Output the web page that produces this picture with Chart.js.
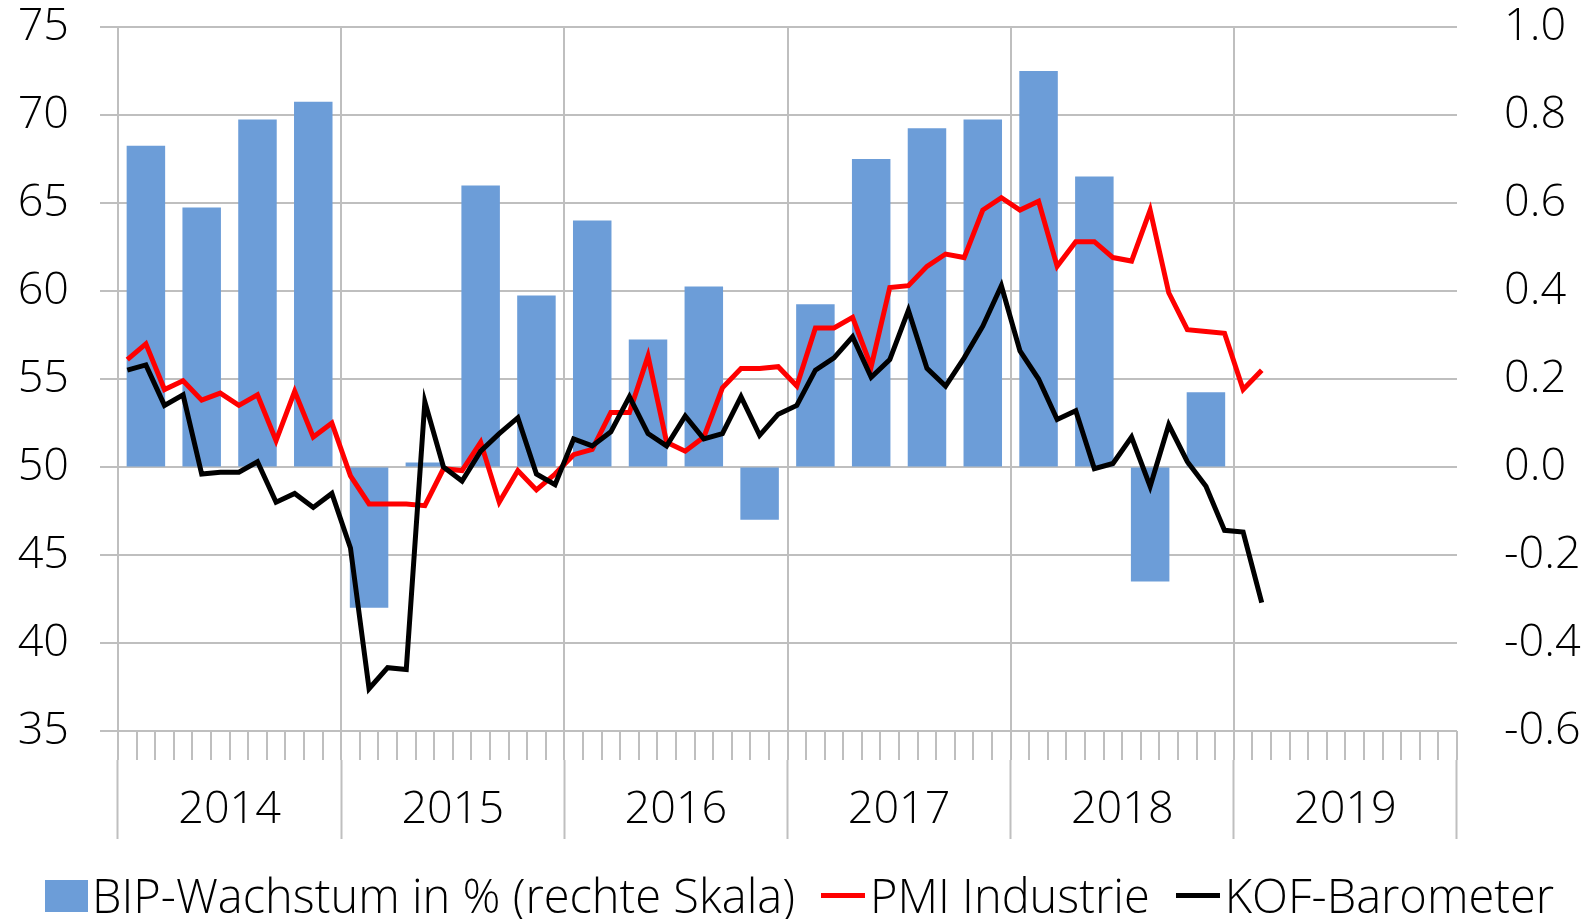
<!DOCTYPE html>
<html lang="de">
<head>
<meta charset="utf-8">
<title>BIP-Wachstum, PMI und KOF-Barometer</title>
<script src="https://cdn.jsdelivr.net/npm/chart.js@4/dist/chart.umd.min.js"></script>
<style>
  body { margin: 0; background: #fff; }
  #wrap { position: relative; width: 1595px; height: 919px; }
  #legend {
    position: absolute; left: 45px; top: 872px;
    display: flex; align-items: center;
    font: 300 47px "Open Sans", sans-serif; line-height: 1; color: #000; white-space: nowrap;
  }
  .item { display: flex; align-items: center; margin-right: 26px; }
  .box { width: 43px; height: 32px; background: #6c9dd8; margin-right: 4px; }
  .line { width: 44px; height: 5px; margin-right: 5px; }
</style>
</head>
<body>
<div id="wrap">
  <canvas id="chart" width="1595" height="919"></canvas>
  <div id="legend">
    <div class="item"><span class="box"></span>BIP-Wachstum in % (rechte Skala)</div>
    <div class="item"><span class="line" style="background:#ff0000"></span>PMI Industrie</div>
    <div class="item"><span class="line" style="background:#000"></span>KOF-Barometer</div>
  </div>
</div>
<script>
const years = ['2014', '2015', '2016', '2017', '2018', '2019'];
const monthNames = ['Jan', 'Feb', 'Mär', 'Apr', 'Mai', 'Jun', 'Jul', 'Aug', 'Sep', 'Okt', 'Nov', 'Dez'];
const quarterNames = ['Q1', 'Q2', 'Q3', 'Q4'];

// BIP-Wachstum in % gegenüber Vorquartal (rechte Skala)
const gdp = [0.73, 0.59, 0.79, 0.83,
             -0.32, 0.01, 0.64, 0.39,
             0.56, 0.29, 0.41, -0.12,
             0.37, 0.70, 0.77, 0.79,
             0.90, 0.66, -0.26, 0.17,
             null, null, null, null];

// PMI Industrie, monatlich
const pmi = [56.1, 57.0, 54.4, 54.9, 53.8, 54.2, 53.5, 54.1, 51.5, 54.3, 51.7, 52.5,
             49.5, 47.9, 47.9, 47.9, 47.8, 49.9, 49.8, 51.4, 48.0, 49.8, 48.7, 49.6,
             50.7, 51.0, 53.1, 53.1, 56.3, 51.4, 50.9, 51.7, 54.5, 55.6, 55.6, 55.7,
             54.6, 57.9, 57.9, 58.5, 55.7, 60.2, 60.3, 61.4, 62.1, 61.9, 64.6, 65.3,
             64.6, 65.1, 61.4, 62.8, 62.8, 61.9, 61.7, 64.6, 59.9, 57.8, 57.7, 57.6,
             54.4, 55.5, null, null, null, null, null, null, null, null, null, null];

// KOF-Barometer, monatlich
const kof = [55.5, 55.8, 53.5, 54.1, 49.6, 49.7, 49.7, 50.3, 48.0, 48.5, 47.7, 48.5,
             45.4, 37.4, 38.6, 38.5, 53.7, 50.0, 49.2, 50.9, 51.9, 52.8, 49.6, 49.0,
             51.6, 51.2, 52.0, 54.0, 51.9, 51.2, 52.9, 51.6, 51.9, 54.0, 51.8, 53.0,
             53.5, 55.5, 56.2, 57.4, 55.1, 56.1, 58.9, 55.6, 54.6, 56.2, 58.0, 60.3,
             56.6, 55.0, 52.7, 53.2, 49.9, 50.2, 51.7, 48.9, 52.4, 50.3, 48.9, 46.4,
             46.3, 42.3, null, null, null, null, null, null, null, null, null, null];

const months = [];
const quarters = [];
years.forEach(y => {
    monthNames.forEach(m => months.push(m + ' ' + y));
    quarterNames.forEach(q => quarters.push(q + ' ' + y));
});

const gridColor = '#bfbfbf';
const font = { family: 'Open Sans', size: 45, weight: '300' };

new Chart(document.getElementById('chart'), {
    type: 'bar',
    data: {
        labels: months,
        datasets: [
            {
                type: 'line',
                label: 'KOF-Barometer',
                data: kof,
                xAxisID: 'x',
                yAxisID: 'y',
                borderColor: '#000000',
                borderWidth: 5,
                pointRadius: 0,
                tension: 0,
                order: 1
            },
            {
                type: 'line',
                label: 'PMI Industrie',
                data: pmi,
                xAxisID: 'x',
                yAxisID: 'y',
                borderColor: '#ff0000',
                borderWidth: 5,
                pointRadius: 0,
                tension: 0,
                order: 2
            },
            {
                type: 'bar',
                label: 'BIP-Wachstum in % (rechte Skala)',
                data: gdp,
                xAxisID: 'xq',
                yAxisID: 'y1',
                backgroundColor: '#6c9dd8',
                grouped: false,
                barPercentage: 0.69,
                categoryPercentage: 1,
                order: 3
            }
        ]
    },
    options: {
        responsive: false,
        animation: false,
        layout: { padding: 0 },
        plugins: {
            legend: { display: false },
            tooltip: { enabled: false }
        },
        scales: {
            x: {
                type: 'category',
                labels: months,
                offset: true,
                grid: {
                    offset: true,
                    color: c => (c.index % 12 === 0 ? gridColor : 'transparent'),
                    lineWidth: 2,
                    tickColor: gridColor,
                    tickWidth: 2,
                    tickLength: 29
                },
                border: { display: false },
                ticks: { display: false },
                afterFit: s => { s.height = 29; }
            },
            xYear: {
                type: 'category',
                labels: years,
                position: 'bottom',
                offset: true,
                weight: 1,
                grid: {
                    offset: true,
                    drawOnChartArea: false,
                    tickColor: gridColor,
                    tickWidth: 2,
                    tickLength: 79
                },
                border: { display: false },
                ticks: { font: font, color: '#000', padding: -56, maxRotation: 0, autoSkip: false },
                afterFit: s => { s.height = 159; }
            },
            xq: {
                type: 'category',
                labels: quarters,
                offset: true,
                display: false
            },
            y: {
                position: 'left',
                min: 35,
                max: 75,
                ticks: { stepSize: 5, padding: 0, font: font, color: '#000' },
                // only the inner 18px of the tick is drawn, the rest is the gap to the labels
                grid: {
                    color: gridColor, lineWidth: 2, tickLength: 49,
                    tickBorderDash: [18, 31], tickBorderDashOffset: 18
                },
                border: { display: false },
                afterFit: s => { s.width = 118; }
            },
            y1: {
                position: 'right',
                min: -0.6,
                max: 1.0,
                ticks: {
                    stepSize: 0.2, padding: 0, font: font, color: '#000',
                    callback: v => v.toFixed(1)
                },
                grid: { drawOnChartArea: false, tickLength: 47, tickColor: 'transparent' },
                border: { display: false },
                afterFit: s => { s.width = 138; }
            }
        }
    }
});
</script>
</body>
</html>
